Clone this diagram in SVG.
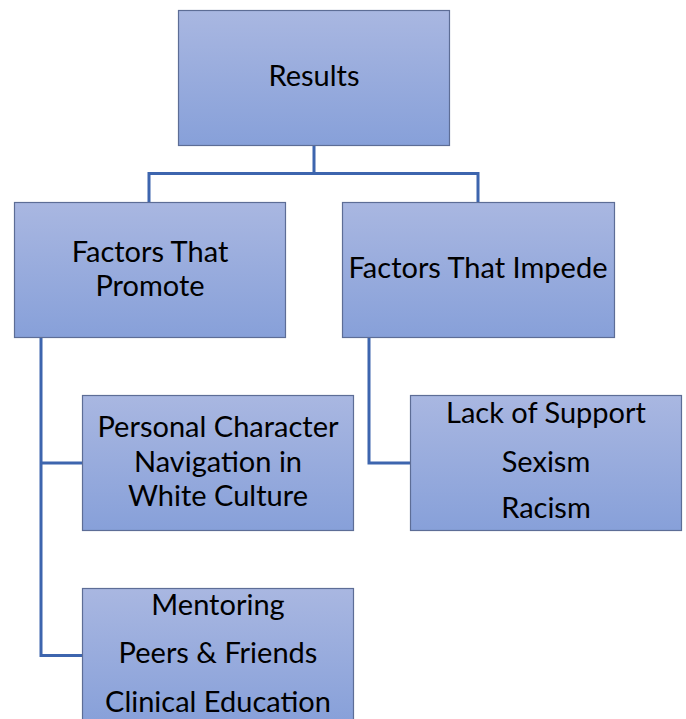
<svg xmlns="http://www.w3.org/2000/svg" width="686" height="719" viewBox="0 0 686 719">
<defs>
<linearGradient id="g" x1="0" y1="0" x2="0" y2="1">
<stop offset="0" stop-color="#a9b7e1"/>
<stop offset="1" stop-color="#87a0d9"/>
</linearGradient>
<style>
.box{fill:url(#g);stroke:#5d6d96;stroke-width:1.2}
.t{font-family:Lato,"Open Sans","Liberation Sans",sans-serif;font-size:29px;fill:#000;text-anchor:middle}
.c{fill:none;stroke:#3d65ae;stroke-width:3}
</style>
</defs>
<rect width="686" height="719" fill="#fff"/>
<g id="connectors">
<path class="c" d="M314 145V173.5M149 202V173.5H478V202"/>
<path class="c" d="M41 337V655.5H82M41 463H82"/>
<path class="c" d="M369 337V463H410"/>
</g>
<g id="results">
<rect class="box" x="178.5" y="10.5" width="271" height="135"/>
<text class="t" x="314" y="86">Results</text>
</g>
<g id="promote">
<rect class="box" x="14.5" y="202.5" width="271" height="135"/>
<text class="t" x="150" y="262">Factors That</text>
<text class="t" x="150" y="296">Promote</text>
</g>
<g id="impede">
<rect class="box" x="342.5" y="202.5" width="272" height="135"/>
<text class="t" x="478" y="278">Factors That Impede</text>
</g>
<g id="personal">
<rect class="box" x="82.5" y="395.5" width="271" height="135"/>
<text class="t" x="218" y="437">Personal Character</text>
<text class="t" x="218" y="472">Navigation in</text>
<text class="t" x="218" y="506">White Culture</text>
</g>
<g id="impede-list">
<rect class="box" x="410.5" y="395.5" width="271" height="135"/>
<text class="t" x="546" y="423">Lack of Support</text>
<text class="t" x="546" y="472">Sexism</text>
<text class="t" x="546" y="518">Racism</text>
</g>
<g id="promote-list">
<rect class="box" x="82.5" y="588.5" width="271" height="135"/>
<text class="t" x="218" y="615">Mentoring</text>
<text class="t" x="218" y="663">Peers &amp; Friends</text>
<text class="t" x="218" y="712">Clinical Education</text>
</g>
</svg>
